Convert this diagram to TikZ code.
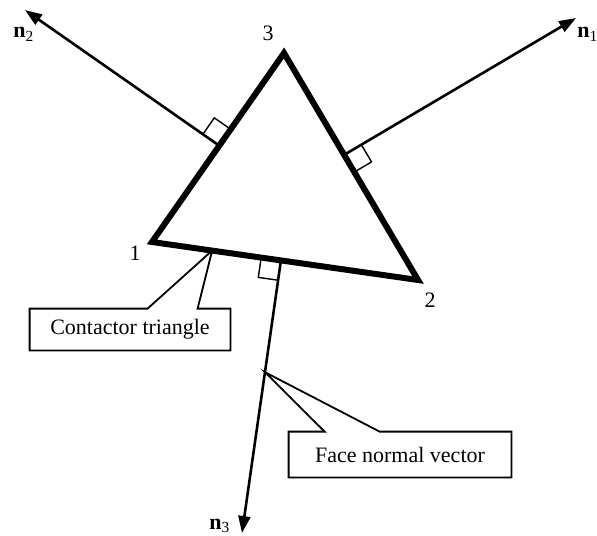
\documentclass[tikz,border=0pt]{standalone}
\usepackage{fontspec}
\setmainfont{Liberation Serif}
\usetikzlibrary{
  arrows.meta,
  calc
}
\tikzset{
  every node/.style={font=\fontsize{11}{13}\selectfont, inner sep=0pt},
  facet/.style={line width=3pt, line join=miter},
  normal/.style={
    -{Triangle[length=8.5pt,width=6pt]},
    line width=1.3pt
  },
  rightmark/.style={line width=0.7pt},
  callout/.style={line width=0.9pt, line join=miter},
  vlabel/.style={anchor=base},
  nlabel/.style={anchor=base west}
}

\begin{document}
\begin{tikzpicture}[x=0.5pt,y=-0.5pt]
  \useasboundingbox (0,0) rectangle (597,535);

  % corners of the contactor triangle
  \coordinate (v1) at (152,242);
  \coordinate (v2) at (418,280);
  \coordinate (v3) at (284,53);

  % ends of the face normals
  \coordinate (t1) at (576,18);
  \coordinate (t2) at (25,10);
  \coordinate (t3) at (242,533);

  % feet of the normals on the faces
  \coordinate (f1) at ($(v3)!(t1)!(v2)$);
  \coordinate (f2) at ($(v1)!(t2)!(v3)$);
  \coordinate (f3) at ($(v1)!(t3)!(v2)$);

  % callout boxes
  \node[minimum width=100pt, minimum height=20.5pt] (cbox) at (130,329.5) {Contactor triangle};
  \node[minimum width=111pt, minimum height=22.5pt] (fbox) at (400,454.5) {Face normal vector};
  \coordinate (ctip) at ($(v1)!0.226!(v2)$);
  \coordinate (ftip) at ($(f3)!0.41!(t3)$);

  \draw[callout] (cbox.north west) -- ($(cbox.north west)+(118,0)$) -- (ctip)
    -- ($(cbox.north west)+(168,0)$) -- (cbox.north east) -- (cbox.south east)
    -- (cbox.south west) -- cycle;
  \draw[callout] (fbox.north west) -- ($(fbox.north west)+(36,0)$) -- (ftip)
    -- ($(fbox.north west)+(91,0)$) -- (fbox.north east) -- (fbox.south east)
    -- (fbox.south west) -- cycle;

  % normals
  \draw[normal] (f1) -- (t1);
  \draw[normal] (f2) -- (t2);
  \draw[normal] (f3) -- (t3);

  % right angle marks
  \coordinate (a1) at ($(f1)!10pt!(t1)$);
  \coordinate (b1) at ($(f1)!10pt!(v2)$);
  \coordinate (a2) at ($(f2)!10pt!(t2)$);
  \coordinate (b2) at ($(f2)!10pt!(v3)$);
  \coordinate (a3) at ($(f3)!10pt!(t3)$);
  \coordinate (b3) at ($(f3)!10pt!(v1)$);
  \draw[rightmark] (a1) -- ($(a1)+(b1)-(f1)$) -- (b1);
  \draw[rightmark] (a2) -- ($(a2)+(b2)-(f2)$) -- (b2);
  \draw[rightmark] (a3) -- ($(a3)+(b3)-(f3)$) -- (b3);

  \draw[facet] (v1) -- (v2) -- (v3) -- cycle;

  % labels
  \node[vlabel] (l1) at (135,260) {1};
  \node[vlabel] (l2) at (430,307) {2};
  \node[vlabel] (l3) at (268,40) {3};
  \node[nlabel] (n1) at (577,38) {\textbf{n}\textsubscript{1}};
  \node[nlabel] (n2) at (13,38) {\textbf{n}\textsubscript{2}};
  \node[nlabel] (n3) at (209,529) {\textbf{n}\textsubscript{3}};
\end{tikzpicture}
\end{document}
